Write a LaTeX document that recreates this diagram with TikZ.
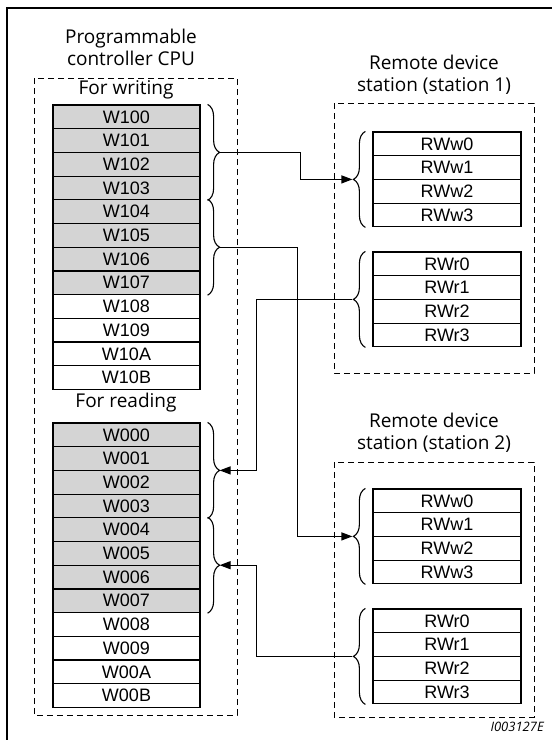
\documentclass[tikz,border=0pt]{standalone}
\usepackage{fontspec}
\setmainfont{Open Sans}
\newfontfamily\cellfont{Liberation Sans}
\usetikzlibrary{arrows.meta,decorations.pathreplacing,positioning}

\begin{document}
\begin{tikzpicture}[
    x=1pt, y=-1pt,
    cell/.style={rectangle, draw, line width=1.2pt, minimum width=147pt, minimum height=23.7pt, inner sep=0pt, font=\cellfont\fontsize{18}{18}\selectfont},
    shaded/.style={cell, fill=black!17},
    rcell/.style={cell, minimum width=148pt},
    title/.style={align=center, font=\fontsize{19}{22}\selectfont},
    frame/.style={draw, line width=0.9pt, dash pattern=on 6pt off 4pt},
    brc/.style={decorate, decoration={brace, amplitude=12pt}, line width=1.1pt},
    link/.style={line width=1.2pt},
    arrow/.style={link, -{Triangle[length=11pt,width=8pt]}}
]
\useasboundingbox (0,0) rectangle (552,740);
\clip (0,0) rectangle (552,740);
\draw[line width=1.3pt] (7,760) -- (7,8) -- (570,8);

% programmable controller side
\node[title] (cpu) at (131,47) {Programmable\\controller CPU};
\draw[frame] (34,78) rectangle (237,715);
\node[title] (forw) at (126,90) {For writing};
\node[title] (forr) at (126,403) {For reading};

\foreach \lab [count=\i from 0] in {W100,W101,W102,W103,W104,W105,W106,W107}
    \node[shaded] (wr\i) at (126.5,116.85+\i*23.7) {\lab};
\foreach \lab [count=\i from 8] in {W108,W109,W10A,W10B}
    \node[cell] (wr\i) at (126.5,116.85+\i*23.7) {\lab};
\foreach \lab [count=\i from 0] in {W000,W001,W002,W003,W004,W005,W006,W007}
    \node[shaded] (rd\i) at (126.5,434.85+\i*23.7) {\lab};
\foreach \lab [count=\i from 8] in {W008,W009,W00A,W00B}
    \node[cell] (rd\i) at (126.5,434.85+\i*23.7) {\lab};

\draw[brc] ([xshift=7pt]wr0.north east) -- node[coordinate, xshift=12pt] (bw1) {} ([xshift=7pt]wr3.south east);
\draw[brc] ([xshift=7pt]wr4.north east) -- node[coordinate, xshift=12pt] (bw2) {} ([xshift=7pt]wr7.south east);
\draw[brc] ([xshift=7pt]rd0.north east) -- node[coordinate, xshift=12pt] (br1) {} ([xshift=7pt]rd3.south east);
\draw[brc] ([xshift=7pt]rd4.north east) -- node[coordinate, xshift=12pt] (br2) {} ([xshift=7pt]rd7.south east);

% remote stations
\foreach \n/\top/\ty/\fa/\fb in {1/132/75/103/373, 2/489/433/462/717} {
    \node[title] (st\n) at (434,\ty) {Remote device\\station (station \n)};
    \draw[frame] (334,\fa) rectangle (534,\fb);
    \foreach \k in {0,...,3} {
        \node[rcell] (s\n w\k) at (447,\top+11.85+\k*23.7) {RWw\k};
        \node[rcell] (s\n r\k) at (447,\top+131.85+\k*23.7) {RWr\k};
    }
    \draw[brc] ([xshift=-7pt]s\n w3.south west) -- node[coordinate, xshift=-13pt] (bs\n w) {} ([xshift=-7pt]s\n w0.north west);
    \draw[brc] ([xshift=-7pt]s\n r3.south west) -- node[coordinate, xshift=-13pt] (bs\n r) {} ([xshift=-7pt]s\n r0.north west);
}

% links
\draw[arrow] (bw1) -- ++(81,0) |- (bs1w);
\draw[arrow] (bw2) -- ++(78,0) |- (bs2w);
\draw[arrow] (bs1r) -- ++(-96,0) |- (br1);
\draw[arrow] (bs2r) -- ++(-96,0) |- (br2);

\node[anchor=west, font=\itshape\fontsize{13}{13}\selectfont] (code) at (487,727) {I003127E};
\end{tikzpicture}
\end{document}
